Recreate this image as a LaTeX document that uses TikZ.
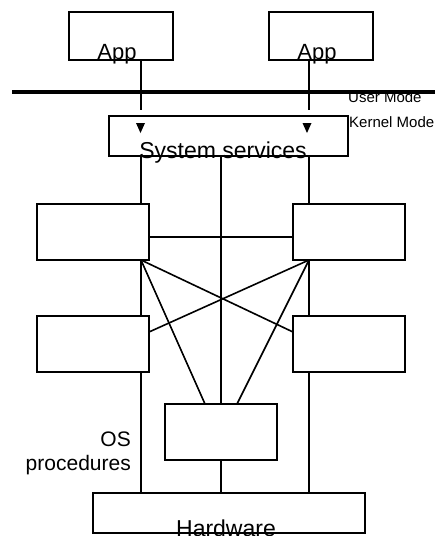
\documentclass[tikz,border=0pt]{standalone}
\usepackage{fontspec}
\setmainfont{Liberation Sans}
\usetikzlibrary{calc}
\begin{document}
\begin{tikzpicture}[x=1pt,y=-1pt,
  box/.style={draw,line width=1.6pt,fill=white,inner sep=0pt,outer sep=0pt},
  wire/.style={line width=1.6pt},
  bigtxt/.style={inner sep=0pt,font=\fontsize{22}{26}\selectfont},
  smalltxt/.style={inner sep=0pt,font=\fontsize{15}{18}\selectfont},
  tip/.style={fill=black}]
\useasboundingbox (0,0) rectangle (435,536);

% column positions of the vertical links
\coordinate (L) at (141,0);
\coordinate (R) at (309,0);

% boxes
\node[box,minimum width=104pt,minimum height=48pt] (app1) at (121,36) {};
\node[box,minimum width=104pt,minimum height=48pt] (app2) at (321,36) {};
\node[box,minimum width=239pt,minimum height=40pt] (sys) at (228.5,136) {};
\node[box,minimum width=112pt,minimum height=56pt] (lt) at (93,232) {};
\node[box,minimum width=112pt,minimum height=56pt] (rt) at (349,232) {};
\node[box,minimum width=112pt,minimum height=56pt] (lb) at (93,344) {};
\node[box,minimum width=112pt,minimum height=56pt] (rb) at (349,344) {};
\node[box,minimum width=112pt,minimum height=56pt] (cb) at (221,432) {};
\node[box,minimum width=272pt,minimum height=40pt] (hw) at (229,513) {};

% mode labels, crossed by the boundary line
\node[smalltxt,anchor=base west] (um) at (348,102) {User Mode};
\node[smalltxt,anchor=base west] (km) at (349,127.5) {Kernel Mode};

% user/kernel boundary
\coordinate (bl) at (12,92);
\coordinate (br) at (435,92);
\draw[line width=3.6pt] (bl) -- (br);

% calls from the applications
\coordinate (a1) at (141,110);
\coordinate (a2) at (309,110);
\draw[wire] (app1.south -| a1) -- (a1);
\draw[wire] (app2.south -| a2) -- (a2);
\fill[tip] (136,123) -- (145,123) -- (140.5,133) -- cycle;
\fill[tip] (302.5,123) -- (311.5,123) -- (307,133) -- cycle;

% vertical links
\draw[wire] (sys.south -| L) -- (lt.north -| L);
\draw[wire] (lt.south -| L) -- (lb.north -| L);
\draw[wire] (lb.south -| L) -- (hw.north -| L);
\draw[wire] (sys.south -| R) -- (rt.north -| R);
\draw[wire] (rt.south -| R) -- (rb.north -| R);
\draw[wire] (rb.south -| R) -- (hw.north -| R);
\draw[wire] (sys.south -| cb) -- (cb.north);
\draw[wire] (cb.south) -- (hw.north -| cb);

% cross links
\draw[wire] ($(lt.east)+(0,5)$) -- ($(rt.west)+(0,5)$);
\draw[wire] (lt.south -| L) -- ($(rb.west)+(0,-12)$);
\draw[wire] (rt.south -| R) -- ($(lb.east)+(0,-12)$);
\draw[wire] (lt.south -| L) -- ($(cb.north)+(-16,0)$);
\draw[wire] (rt.south -| R) -- ($(cb.north)+(16,0)$);

% box labels
\node[bigtxt,anchor=base] (t1) at (117,59.5) {App};
\node[bigtxt,anchor=base] (t2) at (317,59.5) {App};
\node[bigtxt,anchor=base,font=\fontsize{23}{26}\selectfont] (t3) at (223,158) {System services};
\node[bigtxt,anchor=base,font=\fontsize{23}{26}\selectfont] (t4) at (226,536) {Hardware};
\node[inner sep=0pt,align=right,anchor=base east,font=\fontsize{21}{24}\selectfont] (os) at (131,470.7) {OS\\procedures};
\end{tikzpicture}
\end{document}
